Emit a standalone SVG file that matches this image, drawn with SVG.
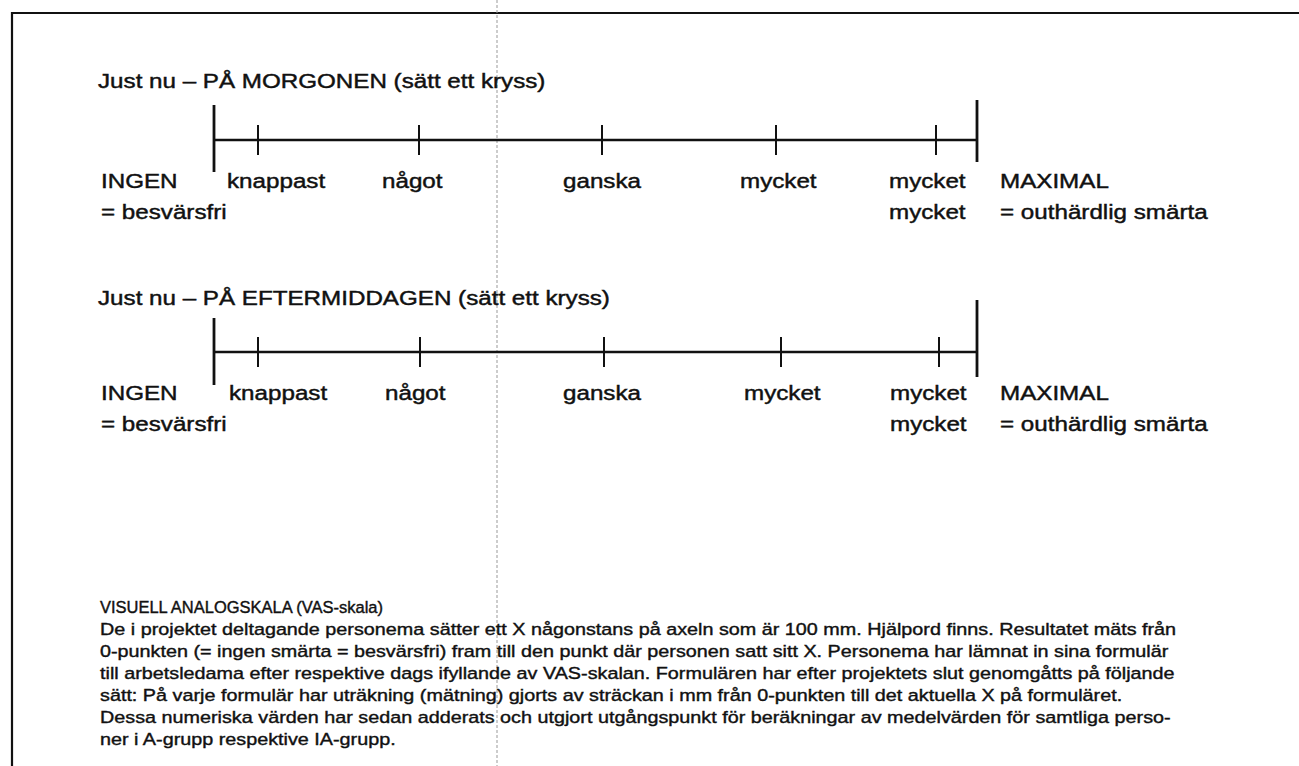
<svg xmlns="http://www.w3.org/2000/svg" width="1299" height="766" viewBox="0 0 1299 766">
<style>
.t{font-family:"Liberation Sans",Arial,sans-serif;fill:#111;stroke:#111;stroke-width:0.45}
.h{font-size:21px}
.l{font-size:21px}
.b{font-size:17px;stroke-width:0.4}
.ax{stroke:#111;stroke-width:2.4;fill:none}
.tk{stroke:#111;stroke-width:2;fill:none}
.end{stroke:#111;stroke-width:2.8;fill:none}
</style>
<rect width="1299" height="766" fill="#fff"/>
<g id="frame">
<line x1="12" y1="13" x2="1299" y2="13" stroke="#111" stroke-width="2.2"/>
<line x1="12" y1="12" x2="12" y2="766" stroke="#111" stroke-width="2.2"/>
<line x1="497" y1="0" x2="497" y2="766" stroke="#999" stroke-width="1" stroke-dasharray="3 2"/>
</g>
<g id="scale-morning">
<text class="t h" transform="translate(98 88) scale(1.152 1)">Just nu – PÅ MORGONEN (sätt ett kryss)</text>
<line class="end" x1="214" y1="105" x2="214" y2="172"/>
<line class="ax" x1="214" y1="140" x2="977" y2="140"/>
<line class="tk" x1="258" y1="125" x2="258" y2="155"/>
<line class="tk" x1="419" y1="125" x2="419" y2="155"/>
<line class="tk" x1="602" y1="125" x2="602" y2="155"/>
<line class="tk" x1="776" y1="125" x2="776" y2="155"/>
<line class="tk" x1="936" y1="125" x2="936" y2="155"/>
<line class="end" x1="977" y1="100" x2="977" y2="162"/>
<text class="t l" transform="translate(101 188) scale(1.152 1)">INGEN</text>
<text class="t l" transform="translate(227 188) scale(1.152 1)">knappast</text>
<text class="t l" transform="translate(382 188) scale(1.152 1)">något</text>
<text class="t l" transform="translate(563 188) scale(1.152 1)">ganska</text>
<text class="t l" transform="translate(740 188) scale(1.152 1)">mycket</text>
<text class="t l" transform="translate(889 188) scale(1.152 1)">mycket</text>
<text class="t l" transform="translate(1000 188) scale(1.152 1)">MAXIMAL</text>
<text class="t l" transform="translate(101 219) scale(1.152 1)">= besvärsfri</text>
<text class="t l" transform="translate(889 219) scale(1.152 1)">mycket</text>
<text class="t l" transform="translate(1000 219) scale(1.152 1)">= outhärdlig smärta</text>
</g>
<g id="scale-afternoon">
<text class="t h" transform="translate(98 305) scale(1.152 1)">Just nu – PÅ EFTERMIDDAGEN (sätt ett kryss)</text>
<line class="end" x1="214" y1="318" x2="214" y2="385"/>
<line class="ax" x1="214" y1="352" x2="977" y2="352"/>
<line class="tk" x1="258" y1="337" x2="258" y2="367"/>
<line class="tk" x1="420" y1="337" x2="420" y2="367"/>
<line class="tk" x1="604" y1="337" x2="604" y2="367"/>
<line class="tk" x1="781" y1="337" x2="781" y2="367"/>
<line class="tk" x1="939" y1="337" x2="939" y2="367"/>
<line class="end" x1="977" y1="300" x2="977" y2="377"/>
<text class="t l" transform="translate(101 400) scale(1.152 1)">INGEN</text>
<text class="t l" transform="translate(229 400) scale(1.152 1)">knappast</text>
<text class="t l" transform="translate(385 400) scale(1.152 1)">något</text>
<text class="t l" transform="translate(563 400) scale(1.152 1)">ganska</text>
<text class="t l" transform="translate(744 400) scale(1.152 1)">mycket</text>
<text class="t l" transform="translate(890 400) scale(1.152 1)">mycket</text>
<text class="t l" transform="translate(1000 400) scale(1.152 1)">MAXIMAL</text>
<text class="t l" transform="translate(101 431) scale(1.152 1)">= besvärsfri</text>
<text class="t l" transform="translate(890 431) scale(1.152 1)">mycket</text>
<text class="t l" transform="translate(1000 431) scale(1.152 1)">= outhärdlig smärta</text>
</g>
<g id="connectors"></g>
<g id="description">
<text class="t b" transform="translate(100 613) scale(0.97 1)">VISUELL ANALOGSKALA (VAS-skala)</text>
<text class="t b" transform="translate(100 635) scale(1.1635 1)">De i projektet deltagande personema sätter ett X någonstans på axeln som är 100 mm. Hjälpord finns. Resultatet mäts från</text>
<text class="t b" transform="translate(100 657) scale(1.1635 1)">0-punkten (= ingen smärta = besvärsfri) fram till den punkt där personen satt sitt X. Personema har lämnat in sina formulär</text>
<text class="t b" transform="translate(100 679) scale(1.1635 1)">till arbetsledama efter respektive dags ifyllande av VAS-skalan. Formulären har efter projektets slut genomgåtts på följande</text>
<text class="t b" transform="translate(100 701) scale(1.1635 1)">sätt: På varje formulär har uträkning (mätning) gjorts av sträckan i mm från 0-punkten till det aktuella X på formuläret.</text>
<text class="t b" transform="translate(100 723) scale(1.1635 1)">Dessa numeriska värden har sedan adderats och utgjort utgångspunkt för beräkningar av medelvärden för samtliga perso-</text>
<text class="t b" transform="translate(100 745) scale(1.1635 1)">ner i A-grupp respektive IA-grupp.</text>
</g>
</svg>
